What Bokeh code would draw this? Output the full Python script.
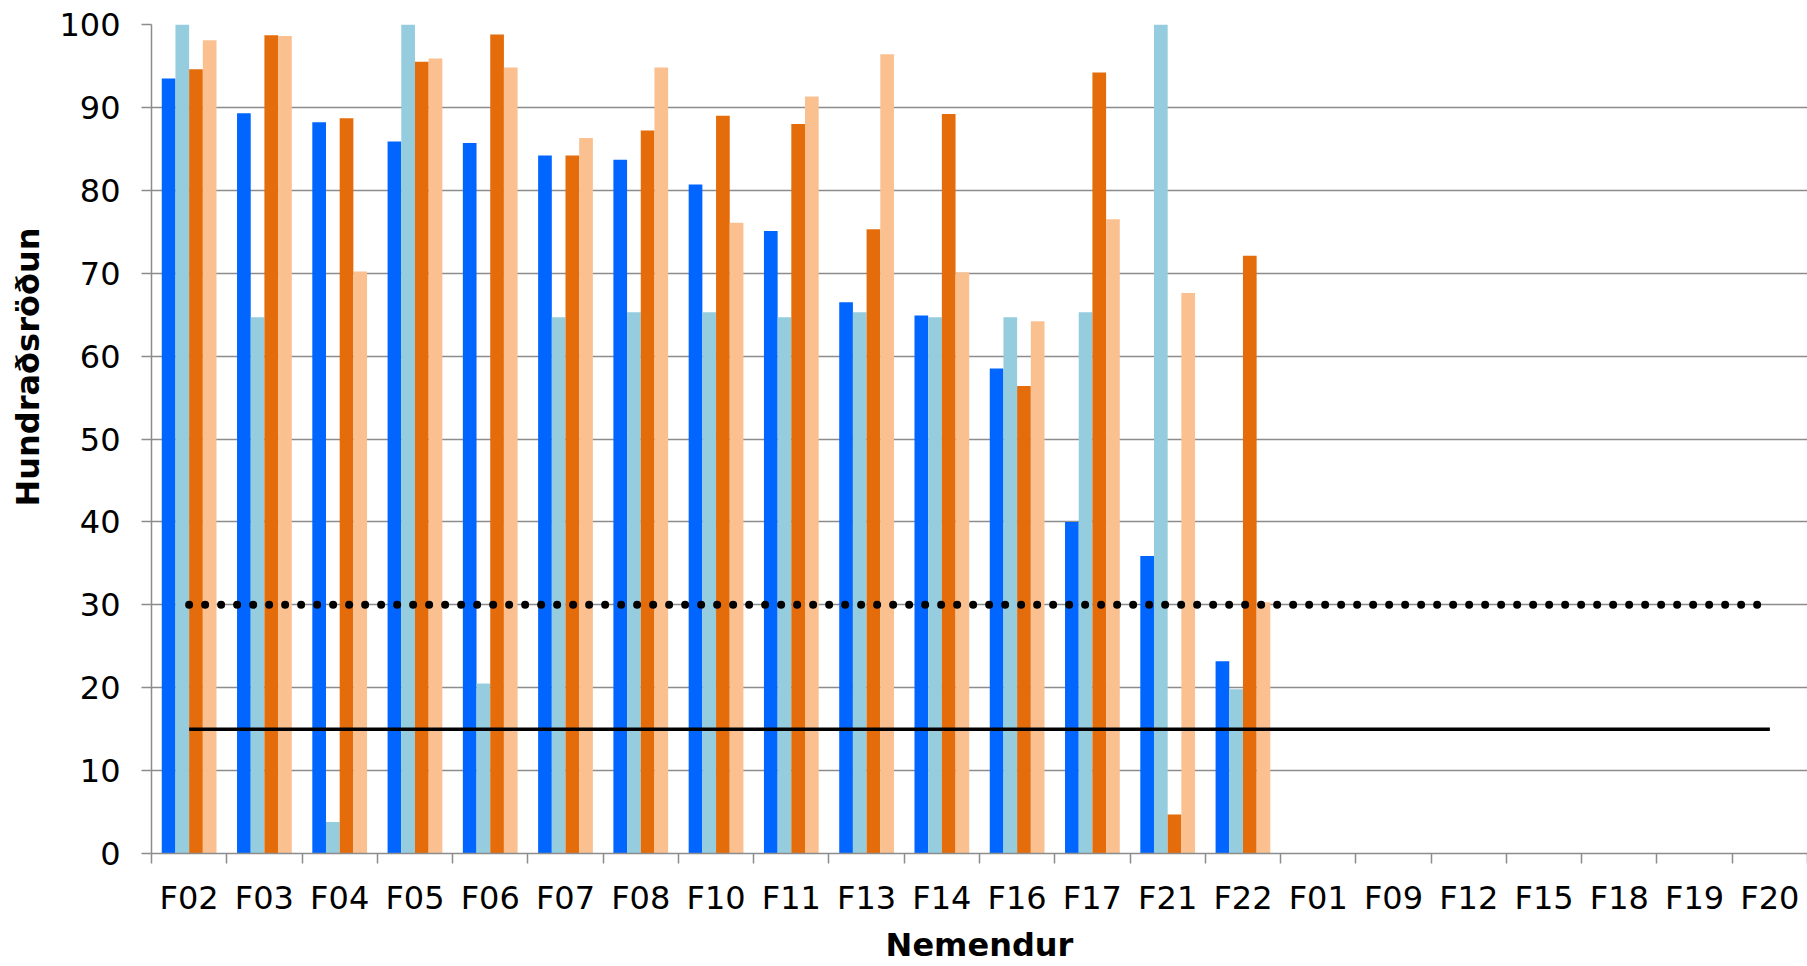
import numpy as np
from bokeh.plotting import figure
from bokeh.models import ColumnDataSource, Range1d, FixedTicker, Title
from bokeh.embed import file_html
from bokeh.resources import INLINE

# ---------------- data ----------------
categories = ["F02", "F03", "F04", "F05", "F06", "F07", "F08", "F10", "F11", "F13", "F14",
              "F16", "F17", "F21", "F22", "F01", "F09", "F12", "F15", "F18", "F19", "F20"]

series_blue = [93.5, 89.3, 88.2, 85.9, 85.7, 84.2, 83.7, 80.7, 75.1, 66.5, 64.9,
               58.5, 40.0, 35.9, 23.2, None, None, None, None, None, None, None]
series_lightblue = [100, 64.7, 3.8, 100, 20.5, 64.7, 65.3, 65.3, 64.7, 65.3, 64.7,
                    64.7, 65.3, 100, 19.8, None, None, None, None, None, None, None]
series_orange = [94.6, 98.7, 88.7, 95.5, 98.8, 84.2, 87.2, 89.0, 88.0, 75.3, 89.2,
                 56.4, 94.2, 4.7, 72.1, None, None, None, None, None, None, None]
series_peach = [98.1, 98.6, 70.2, 95.9, 94.8, 86.3, 94.8, 76.1, 91.3, 96.4, 70.1,
                64.2, 76.5, 67.6, 30.3, None, None, None, None, None, None, None]

limit_dotted = [30, 30, 30, 30, 30, 30, 30, 30, 30, 30, 30,
                30, 30, 30, 30, 30, 30, 30, 30, 30, 30, 30]
limit_solid = [15, 15, 15, 15, 15, 15, 15, 15, 15, 15, 15,
               15, 15, 15, 15, 15, 15, 15, 15, 15, 15, 15]

y_ticks = [0, 10, 20, 30, 40, 50, 60, 70, 80, 90, 100]

colors = ["#0066FF", "#95CDDF", "#E46C0A", "#FAC090"]

# ---------------- figure ----------------
n = len(categories)
centers = [i + 0.5 for i in range(n)]
bounds = list(range(n + 1))

p = figure(width=1807, height=966, output_backend="svg", toolbar_location=None,
           x_range=Range1d(0, n), y_range=Range1d(0, 100),
           min_border_left=151, min_border_right=0, min_border_top=24,
           min_border_bottom=112)
p.outline_line_color = None
p.background_fill_color = "white"
p.border_fill_color = "white"

GRAY = "#8c8c8c"
FONT = "DejaVu Sans"
FSIZE = "32px"

bar_w = 1 / 5.5
offsets = [-1.5 * bar_w, -0.5 * bar_w, 0.5 * bar_w, 1.5 * bar_w]
for vals, col, off in zip([series_blue, series_lightblue, series_orange, series_peach],
                          colors, offsets):
    src = ColumnDataSource(dict(
        x=[c + off for c in centers],
        top=np.array([np.nan if v is None else v for v in vals], dtype=float)))
    p.vbar(x="x", top="top", bottom=0, width=bar_w, fill_color=col,
           line_color=None, source=src)

p.line(centers, limit_dotted, line_color="black", line_width=8,
       line_dash="0 16", line_cap="round")
p.line(centers, limit_solid, line_color="black", line_width=3.5)

# x axis
xa = p.xaxis[0]
xa.ticker = FixedTicker(ticks=centers, minor_ticks=bounds)
xa.major_label_overrides = {c: lab for c, lab in zip(centers, categories)}
xa.major_tick_out = 0
xa.major_tick_in = 0
xa.minor_tick_out = 10
xa.minor_tick_in = 0
xa.minor_tick_line_color = GRAY
xa.minor_tick_line_width = 1.5
xa.axis_line_color = GRAY
xa.axis_line_width = 1.5
xa.major_label_text_font = FONT
xa.major_label_text_font_size = FSIZE
xa.major_label_text_color = "black"
xa.major_label_standoff = 15
xa.axis_label = "Nemendur"
xa.axis_label_text_font = FONT
xa.axis_label_text_font_size = FSIZE
xa.axis_label_text_font_style = "bold"
xa.axis_label_text_color = "black"
xa.axis_label_standoff = 6

# y axis
ya = p.yaxis[0]
ya.ticker = FixedTicker(ticks=y_ticks)
ya.major_tick_out = 10
ya.major_tick_in = 0
ya.major_tick_line_color = GRAY
ya.major_tick_line_width = 1.5
ya.minor_tick_line_color = None
ya.axis_line_color = GRAY
ya.axis_line_width = 1.5
ya.major_label_text_font = FONT
ya.major_label_text_font_size = FSIZE
ya.major_label_text_color = "black"
ya.major_label_standoff = 21

p.xgrid.grid_line_color = None
p.ygrid.ticker = FixedTicker(ticks=y_ticks)
p.ygrid.grid_line_color = GRAY
p.ygrid.grid_line_width = 1.5

yt = Title(text="Hundraðsröðun", align="left", vertical_align="top",
           offset=347, standoff=15,
           text_font=FONT, text_font_size=FSIZE, text_font_style="bold",
           text_color="black")
p.add_layout(yt, "left")

with open("out.html", "w", encoding="utf-8") as f:
    f.write(file_html(p, INLINE))
